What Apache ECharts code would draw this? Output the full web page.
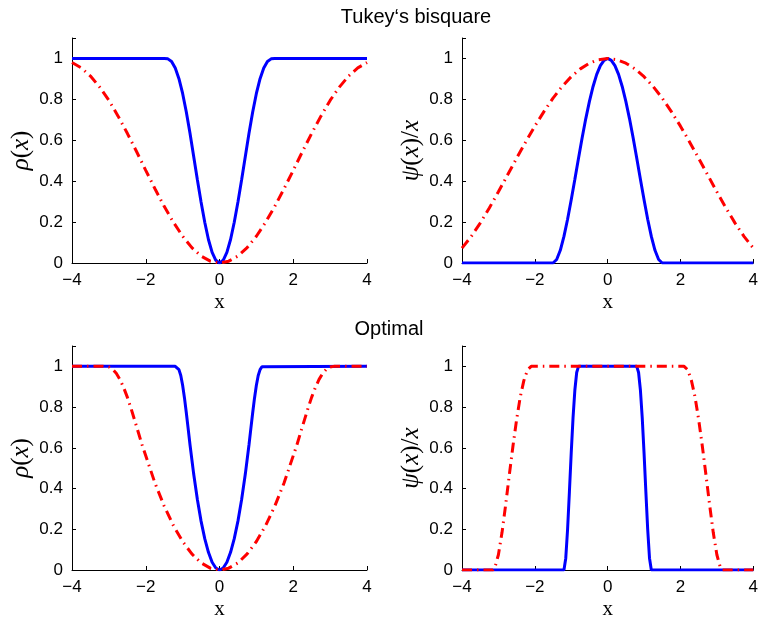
<!DOCTYPE html>
<html>
<head>
<meta charset="utf-8">
<script src="https://cdn.jsdelivr.net/npm/echarts@6/dist/echarts.min.js"></script>
<style>
  html, body { margin: 0; padding: 0; background: #fff; }
  #chart { width: 761px; height: 621px; }
</style>
</head>
<body>
<div id="chart"></div>
<script>
// Tukey's bisquare, narrow (blue) curve
const tukeyXNarrow = [-4, -1.5, -1.4, -1.3, -1.2, -1.1, -1.0, -0.9, -0.8, -0.7, -0.6, -0.5, -0.4, -0.3, -0.2, -0.1, 0,
  0.1, 0.2, 0.3, 0.4, 0.5, 0.6, 0.7, 0.8, 0.9, 1.0, 1.1, 1.2, 1.3, 1.4, 1.5, 4];
const tukeyRhoNarrow = [1, 1, 0.998, 0.985, 0.953, 0.901, 0.829, 0.738, 0.634, 0.521, 0.407, 0.298, 0.199, 0.115, 0.052, 0.013, 0,
  0.013, 0.052, 0.115, 0.199, 0.298, 0.407, 0.521, 0.634, 0.738, 0.829, 0.901, 0.953, 0.985, 0.998, 1, 1];
const tukeyWeightNarrow = [0, 0, 0.017, 0.062, 0.130, 0.214, 0.309, 0.410, 0.512, 0.612, 0.706, 0.790, 0.863, 0.922, 0.965, 0.991, 1,
  0.991, 0.965, 0.922, 0.863, 0.790, 0.706, 0.612, 0.512, 0.410, 0.309, 0.214, 0.130, 0.062, 0.017, 0, 0];

// Tukey's bisquare, wide (red) curve
const tukeyXWide = [-4, -3.75, -3.5, -3.25, -3, -2.75, -2.5, -2.25, -2, -1.75, -1.5, -1.25, -1, -0.75, -0.5, -0.25, 0,
  0.25, 0.5, 0.75, 1, 1.25, 1.5, 1.75, 2, 2.25, 2.5, 2.75, 3, 3.25, 3.5, 3.75, 4];
const tukeyRhoWide = [0.980, 0.954, 0.914, 0.860, 0.795, 0.718, 0.634, 0.545, 0.453, 0.363, 0.277, 0.199, 0.131, 0.075, 0.034, 0.009, 0,
  0.009, 0.034, 0.075, 0.131, 0.199, 0.277, 0.363, 0.453, 0.545, 0.634, 0.718, 0.795, 0.860, 0.914, 0.954, 0.980];
const tukeyWeightWide = [0.073, 0.129, 0.195, 0.269, 0.348, 0.430, 0.512, 0.592, 0.669, 0.740, 0.806, 0.863, 0.911, 0.949, 0.977, 0.994, 1,
  0.994, 0.977, 0.949, 0.911, 0.863, 0.806, 0.740, 0.669, 0.592, 0.512, 0.430, 0.348, 0.269, 0.195, 0.129, 0.073];

// Optimal, narrow (blue) curve
const optXNarrow = [-4, -1.2, -1.15, -1.1, -1.05, -1.0, -0.95, -0.9, -0.85, -0.8, -0.7, -0.6, -0.5, -0.4, -0.3, -0.2, -0.1, 0,
  0.1, 0.2, 0.3, 0.4, 0.5, 0.6, 0.7, 0.8, 0.85, 0.9, 0.95, 1.0, 1.05, 1.1, 1.15, 1.2, 4];
const optRhoNarrow = [1, 1, 0.998, 0.984, 0.955, 0.907, 0.845, 0.772, 0.694, 0.615, 0.471, 0.346, 0.240, 0.154, 0.087, 0.038, 0.010, 0,
  0.010, 0.038, 0.087, 0.154, 0.240, 0.346, 0.471, 0.615, 0.694, 0.772, 0.845, 0.907, 0.955, 0.984, 0.998, 1, 1];
const optWeightNarrow = [0, 0, 0.058, 0.200, 0.384, 0.575, 0.748, 0.884, 0.970, 1, 1, 1, 1, 1, 1, 1, 1, 1,
  1, 1, 1, 1, 1, 1, 1, 1, 0.970, 0.884, 0.748, 0.575, 0.384, 0.200, 0.058, 0, 0];

// Optimal, wide (red) curve
const optXWide = [-4, -3.15, -3.1, -3.0, -2.9, -2.8, -2.7, -2.6, -2.5, -2.4, -2.3, -2.2, -2.1, -1.75, -1.5, -1.25, -1.0, -0.75, -0.5, -0.25, 0,
  0.25, 0.5, 0.75, 1.0, 1.25, 1.5, 1.75, 2.1, 2.2, 2.3, 2.4, 2.5, 2.6, 2.7, 2.8, 2.9, 3.0, 3.1, 3.15, 4];
const optRhoWide = [1, 1, 1, 0.997, 0.986, 0.966, 0.936, 0.896, 0.849, 0.794, 0.735, 0.675, 0.615, 0.427, 0.314, 0.218, 0.140, 0.079, 0.035, 0.009, 0,
  0.009, 0.035, 0.079, 0.140, 0.218, 0.314, 0.427, 0.615, 0.675, 0.735, 0.794, 0.849, 0.896, 0.936, 0.966, 0.986, 0.997, 1, 1, 1];
const optWeightWide = [0, 0, 0.010, 0.075, 0.185, 0.321, 0.468, 0.609, 0.739, 0.850, 0.931, 0.983, 1, 1, 1, 1, 1, 1, 1, 1, 1,
  1, 1, 1, 1, 1, 1, 1, 1, 0.983, 0.931, 0.850, 0.739, 0.609, 0.468, 0.321, 0.185, 0.075, 0.010, 0, 0];

const xTicks = [-4, -2, 0, 2, 4];
const yTicks = [0, 0.2, 0.4, 0.6, 0.8, 1];

const rhoName = '{i|ρ}{n|(}{i|x}{n|)}';
const psiName = '{i|ψ}{n|(}{i|x}{n|)/}{i|x}';

const zip = (xs, ys) => xs.map((x, i) => [x, ys[i]]);

const grids = [
  { left: 72, top: 38, width: 295, height: 225 },
  { left: 462, top: 38, width: 295, height: 225 },
  { left: 72, top: 346, width: 295, height: 225 },
  { left: 462, top: 346, width: 295, height: 225 }
];

const labelFont = { color: '#000', fontFamily: 'Liberation Sans', fontSize: 17 };

const makeX = i => ({
  type: 'value',
  gridIndex: i,
  min: xTicks[0],
  max: xTicks[xTicks.length - 1],
  interval: 2,
  name: 'x',
  nameLocation: 'middle',
  nameGap: 29,
  nameTextStyle: { fontFamily: 'Liberation Serif', fontSize: 21, color: '#000' },
  splitLine: { show: false },
  axisLine: { onZero: false, lineStyle: { color: '#000', width: 1 } },
  axisTick: { inside: true, length: 4, lineStyle: { color: '#000' } },
  axisLabel: Object.assign({ margin: 9, formatter: v => String(v).replace('-', '\u2212') }, labelFont)
});

const makeY = (i, name) => ({
  type: 'value',
  gridIndex: i,
  min: 0,
  max: 1.1,
  interval: 0.2,
  name: name,
  nameLocation: 'middle',
  nameGap: 38,
  nameRotate: 90,
  nameTextStyle: {
    color: '#000',
    fontSize: 25,
    fontFamily: 'Liberation Serif',
    rich: {
      i: { fontFamily: 'Liberation Serif', fontStyle: 'italic', fontSize: 25, color: '#000' },
      n: { fontFamily: 'Liberation Serif', fontSize: 25, color: '#000' }
    }
  },
  splitLine: { show: false },
  axisLine: { onZero: false, lineStyle: { color: '#000', width: 1 } },
  axisTick: { inside: true, length: 4, lineStyle: { color: '#000' } },
  axisLabel: Object.assign({
    margin: 9,
    formatter: v => (yTicks.some(t => Math.abs(t - v) < 1e-6) ? String(Math.round(v * 10) / 10) : '')
  }, labelFont)
});

const blue = (i, xs, ys) => ({
  type: 'line', xAxisIndex: i, yAxisIndex: i, data: zip(xs, ys),
  showSymbol: false, silent: true,
  lineStyle: { color: '#0000ff', width: 3 }
});

const red = (i, xs, ys) => ({
  type: 'line', xAxisIndex: i, yAxisIndex: i, data: zip(xs, ys),
  showSymbol: false, silent: true,
  lineStyle: { color: '#ff0000', width: 3, type: [10, 5, 1.5, 5] }
});

const chart = echarts.init(document.getElementById('chart'), null, { renderer: 'canvas' });
chart.setOption({
  animation: false,
  backgroundColor: '#fff',
  grid: grids,
  xAxis: [makeX(0), makeX(1), makeX(2), makeX(3)],
  yAxis: [makeY(0, rhoName), makeY(1, psiName), makeY(2, rhoName), makeY(3, psiName)],
  graphic: [
    { type: 'text', x: 416, y: 17, style: { text: 'Tukey\u2018s bisquare', fontFamily: 'Liberation Sans', fontSize: 20, fill: '#000', textAlign: 'center', textVerticalAlign: 'middle' } },
    { type: 'text', x: 389, y: 329, style: { text: 'Optimal', fontFamily: 'Liberation Sans', fontSize: 20, fill: '#000', textAlign: 'center', textVerticalAlign: 'middle' } }
  ],
  series: [
    blue(0, tukeyXNarrow, tukeyRhoNarrow),
    red(0, tukeyXWide, tukeyRhoWide),
    blue(1, tukeyXNarrow, tukeyWeightNarrow),
    red(1, tukeyXWide, tukeyWeightWide),
    blue(2, optXNarrow, optRhoNarrow),
    red(2, optXWide, optRhoWide),
    blue(3, optXNarrow, optWeightNarrow),
    red(3, optXWide, optWeightWide)
  ]
});
</script>
</body>
</html>
